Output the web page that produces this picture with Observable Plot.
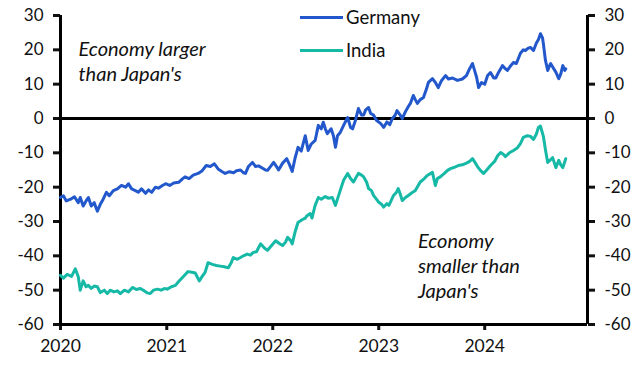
<!DOCTYPE html>
<html><head><meta charset="utf-8">
<script src="https://cdn.jsdelivr.net/npm/d3@7"></script>
<script src="https://cdn.jsdelivr.net/npm/@observablehq/plot@0.6"></script>
<style>
body{margin:0;background:#fff;}
#wrap{position:relative;width:640px;height:369px;font-family:Lato,sans-serif;}
.leg{position:absolute;display:flex;align-items:center;font-size:18.5px;line-height:20px;color:#111;}
.leg .sw{display:inline-block;width:43px;height:3px;margin-right:3px;}
</style></head><body><div id="wrap"></div>
<script>
const seriesNames = ["Germany", "India"];
const seriesColors = ["#2258cc", "#16b8a6"];

const germanyDates = ["2020-01-01","2020-01-11","2020-01-21","2020-02-05","2020-02-18","2020-03-02","2020-03-09","2020-03-19","2020-03-29","2020-04-06","2020-04-16","2020-04-26","2020-05-07","2020-05-17","2020-05-27","2020-06-07","2020-06-17","2020-07-01","2020-07-15","2020-07-29","2020-08-12","2020-08-22","2020-09-02","2020-09-15","2020-09-25","2020-10-06","2020-10-20","2020-10-30","2020-11-10","2020-11-23","2020-12-03","2020-12-17","2020-12-28","2021-01-11","2021-01-25","2021-02-11","2021-02-24","2021-03-05","2021-03-19","2021-04-02","2021-04-19","2021-05-03","2021-05-17","2021-05-31","2021-06-14","2021-06-28","2021-07-11","2021-07-21","2021-08-05","2021-08-19","2021-08-29","2021-09-12","2021-09-22","2021-09-29","2021-10-09","2021-10-23","2021-11-03","2021-11-13","2021-11-27","2021-12-07","2021-12-14","2021-12-24","2022-01-04","2022-01-14","2022-01-21","2022-02-04","2022-02-18","2022-02-28","2022-03-09","2022-03-19","2022-03-29","2022-04-09","2022-04-23","2022-05-03","2022-05-13","2022-05-27","2022-06-07","2022-06-17","2022-06-24","2022-07-01","2022-07-08","2022-07-21","2022-07-29","2022-08-05","2022-08-12","2022-08-22","2022-09-02","2022-09-16","2022-09-26","2022-10-03","2022-10-13","2022-10-23","2022-11-03","2022-11-10","2022-11-17","2022-11-27","2022-12-04","2022-12-14","2022-12-24","2023-01-08","2023-01-18","2023-01-29","2023-02-08","2023-02-17","2023-02-27","2023-03-05","2023-03-16","2023-03-23","2023-04-03","2023-04-13","2023-04-20","2023-04-30","2023-05-07","2023-05-14","2023-05-24","2023-06-04","2023-06-14","2023-06-21","2023-07-05","2023-07-15","2023-07-25","2023-08-05","2023-08-19","2023-08-29","2023-09-12","2023-09-29","2023-10-16","2023-10-30","2023-11-10","2023-11-20","2023-11-27","2023-12-04","2023-12-11","2023-12-21","2024-01-01","2024-01-11","2024-01-21","2024-02-01","2024-02-08","2024-02-18","2024-03-02","2024-03-12","2024-03-19","2024-03-29","2024-04-09","2024-04-19","2024-05-03","2024-05-13","2024-05-20","2024-05-30","2024-06-07","2024-06-17","2024-06-27","2024-07-04","2024-07-11","2024-07-18","2024-07-21","2024-07-28","2024-08-05","2024-08-12","2024-08-15","2024-08-22","2024-09-02","2024-09-12","2024-09-19","2024-09-26","2024-10-03","2024-10-06"];
const germanyValues = [-23,-22.5,-24,-23.5,-22.8,-24.5,-23,-25.5,-24,-23,-25.5,-24.5,-27,-25,-23.5,-21.5,-22.5,-21,-20.5,-19.5,-20,-19,-20.5,-21,-21.5,-20.5,-21.8,-20.8,-21.5,-20,-20.3,-19.5,-19,-19.5,-18.8,-18.6,-17.6,-17,-17.5,-16.5,-16,-15.2,-13.7,-14,-13.2,-14.8,-15.5,-16,-15.5,-15.8,-15.2,-15,-15.8,-16,-14,-12.8,-14,-13.8,-14.5,-15,-15.1,-14,-12.8,-14,-15,-13,-11.7,-13.5,-15.4,-11.5,-8.4,-9.5,-5,-9.3,-7.5,-6.4,-2,-3,-1.1,-3,-4.4,-3,-5,-8.4,-5,-4,-2,0.3,-2.6,-3,-0.5,2.9,1,1,2.5,3.2,1.5,1,-0.5,-1.5,-2.6,-1,-1.8,0,1,2.3,1,0,2,3.5,4.4,6.7,5.5,4.4,5.5,6.1,8.5,10.5,11.6,10.5,9,11,12.5,11.5,11.8,11.1,11.5,12.5,14.5,16,14,12,9,10.5,10,12.5,13.4,11.8,11.8,13.5,15.4,14.5,14,15.2,16.3,16,19,20,19.8,20.5,20.7,19.8,22,23,24.7,23.5,21.8,17,14,15.5,16,15,13.5,11.6,13,15.4,14,14.5];

const indiaDates = ["2020-01-01","2020-01-11","2020-01-24","2020-02-08","2020-02-21","2020-03-02","2020-03-09","2020-03-19","2020-03-29","2020-04-06","2020-04-16","2020-04-26","2020-05-07","2020-05-17","2020-05-31","2020-06-10","2020-06-20","2020-07-03","2020-07-15","2020-07-25","2020-08-08","2020-08-22","2020-09-05","2020-09-18","2020-10-02","2020-10-15","2020-10-26","2020-11-05","2020-11-16","2020-11-30","2020-12-13","2020-12-24","2021-01-03","2021-01-17","2021-01-31","2021-02-11","2021-02-24","2021-03-05","2021-03-15","2021-03-29","2021-04-09","2021-04-23","2021-05-03","2021-05-13","2021-05-23","2021-06-07","2021-06-21","2021-07-04","2021-07-18","2021-08-01","2021-08-11","2021-08-18","2021-09-01","2021-09-12","2021-09-22","2021-10-05","2021-10-16","2021-10-26","2021-11-06","2021-11-20","2021-12-04","2021-12-14","2021-12-28","2022-01-11","2022-01-25","2022-02-04","2022-02-14","2022-02-21","2022-03-03","2022-03-09","2022-03-19","2022-03-29","2022-04-12","2022-04-23","2022-04-29","2022-05-10","2022-05-16","2022-05-27","2022-06-07","2022-06-17","2022-07-01","2022-07-11","2022-07-25","2022-08-05","2022-08-19","2022-09-02","2022-09-16","2022-09-26","2022-10-06","2022-10-16","2022-10-23","2022-11-03","2022-11-10","2022-11-20","2022-11-27","2022-12-07","2022-12-14","2022-12-24","2023-01-01","2023-01-11","2023-01-18","2023-01-29","2023-02-05","2023-02-15","2023-02-21","2023-03-03","2023-03-09","2023-03-16","2023-03-23","2023-04-03","2023-04-13","2023-04-23","2023-05-07","2023-05-17","2023-05-24","2023-06-07","2023-06-17","2023-07-05","2023-07-15","2023-07-22","2023-08-01","2023-08-15","2023-08-26","2023-09-05","2023-09-19","2023-10-02","2023-10-16","2023-10-30","2023-11-10","2023-11-20","2023-11-30","2023-12-07","2023-12-18","2023-12-28","2024-01-08","2024-01-21","2024-02-04","2024-02-15","2024-02-25","2024-03-06","2024-03-12","2024-03-26","2024-04-09","2024-04-23","2024-05-03","2024-05-13","2024-05-27","2024-06-07","2024-06-17","2024-06-27","2024-07-04","2024-07-11","2024-07-21","2024-07-28","2024-08-05","2024-08-15","2024-08-22","2024-09-02","2024-09-12","2024-09-19","2024-09-26","2024-10-03","2024-10-06"];
const indiaValues = [-45.7,-46.5,-45.4,-46,-43.8,-46,-50,-47.3,-49,-48.6,-49.5,-48.8,-49,-50.7,-50,-51,-50,-50.5,-50.2,-51,-50,-50.5,-49.2,-49.8,-49.5,-50.2,-50.8,-51,-50,-49.7,-50,-49.5,-49.7,-49,-48.6,-47.5,-46.3,-45.5,-44.6,-44.8,-45,-47.3,-46,-44.8,-42,-42.5,-42.8,-43,-43.2,-43.5,-42,-40.5,-41,-40.5,-40,-39.5,-39.8,-39,-38.8,-36.5,-37.8,-38.4,-37,-35.6,-36.5,-37,-36,-34.6,-35.5,-36.5,-33,-30.3,-29.5,-29,-28.3,-27.7,-29,-25.3,-23,-23.5,-22.7,-23.2,-23,-25.3,-21.6,-18,-16,-17.5,-18.5,-17,-16,-16.5,-17,-18.5,-20.4,-21,-22.4,-23.5,-24.4,-25,-25.8,-24.8,-25.3,-23.5,-22.4,-21.5,-20.4,-22,-23.9,-23,-22.4,-21.8,-21,-19.5,-18.5,-17.5,-16.6,-15.7,-19.5,-17.5,-17,-16,-15.1,-14.6,-14.2,-13.7,-13.5,-13,-12.5,-11.7,-13,-14,-15.2,-16,-15,-13.7,-12.5,-10.8,-9.9,-10.5,-11.1,-10,-9.3,-8.5,-7.3,-5.5,-5,-5.2,-6.1,-4.5,-2.6,-2.2,-5.2,-9,-12.8,-12,-11.4,-14.3,-12.2,-13.5,-14.3,-12.5,-11.7];

const yTicks = [30, 20, 10, 0, -10, -20, -30, -40, -50, -60];
const xTickDates = ["2020-01-01", "2021-01-01", "2022-01-01", "2023-01-01", "2024-01-01"];
const xDomain = ["2020-01-01", "2024-12-20"];
const yDomain = [-60, 30];
const annotations = [
  {date: "2020-03-03", value: 23.3, text: "Economy larger\nthan Japan's"},
  {date: "2023-05-16", value: -32.6, text: "Economy\nsmaller than\nJapan's"}
];

const parse = s => new Date(s + "T00:00:00Z");
const rows = [];
germanyDates.forEach((d, i) => rows.push({date: parse(d), value: germanyValues[i], series: seriesNames[0]}));
indiaDates.forEach((d, i) => rows.push({date: parse(d), value: indiaValues[i], series: seriesNames[1]}));
const ann = annotations.map(a => ({...a, date: parse(a.date)}));
const x0 = parse(xDomain[0]), x1 = parse(xDomain[1]);

const chart = Plot.plot({
  width: 640, height: 369,
  marginLeft: 60, marginRight: 53, marginTop: 15, marginBottom: 45,
  style: {fontFamily: "Lato, sans-serif", fontSize: "17px", color: "#111", background: "#fff"},
  x: {type: "utc", domain: [x0, x1]},
  y: {domain: yDomain},
  color: {domain: seriesNames, range: seriesColors},
  marks: [
    Plot.axisY({anchor: "left", ticks: yTicks, tickFormat: d => String(d), tickSize: 7, tickPadding: 10, strokeWidth: 3, fontSize: 17, label: null}),
    Plot.axisY({anchor: "right", ticks: yTicks, tickFormat: d => String(d), tickSize: 7, tickPadding: 10, strokeWidth: 3, fontSize: 17, label: null}),
    Plot.axisX({ticks: xTickDates.map(parse), tickFormat: d3.utcFormat("%Y"), tickSize: 6, tickPadding: 9, strokeWidth: 3, fontSize: 17.5, label: null}),
    Plot.ruleX([x0], {strokeWidth: 3, stroke: "#000"}),
    Plot.ruleX([x1], {strokeWidth: 3, stroke: "#000"}),
    Plot.ruleY([yDomain[0]], {strokeWidth: 3, stroke: "#000"}),
    Plot.ruleY([0], {strokeWidth: 3, stroke: "#000"}),
    Plot.lineY(rows, {x: "date", y: "value", z: "series", stroke: "series", strokeWidth: 3, curve: "linear"}),
    Plot.text(ann, {x: "date", y: "value", text: "text", textAnchor: "start", lineAnchor: "top", lineHeight: 1.24, fontSize: 20, fontStyle: "italic", fill: "#111"})
  ]
});
const wrap = document.getElementById("wrap");
wrap.appendChild(chart);
const legTops = [7, 40];
seriesNames.forEach((n, i) => {
  const d = document.createElement("div");
  d.className = "leg";
  d.style.left = "300px";
  d.style.top = legTops[i] + "px";
  d.innerHTML = `<span class="sw" style="background:${seriesColors[i]}"></span><span>${n}</span>`;
  wrap.appendChild(d);
});
</script></body></html>
